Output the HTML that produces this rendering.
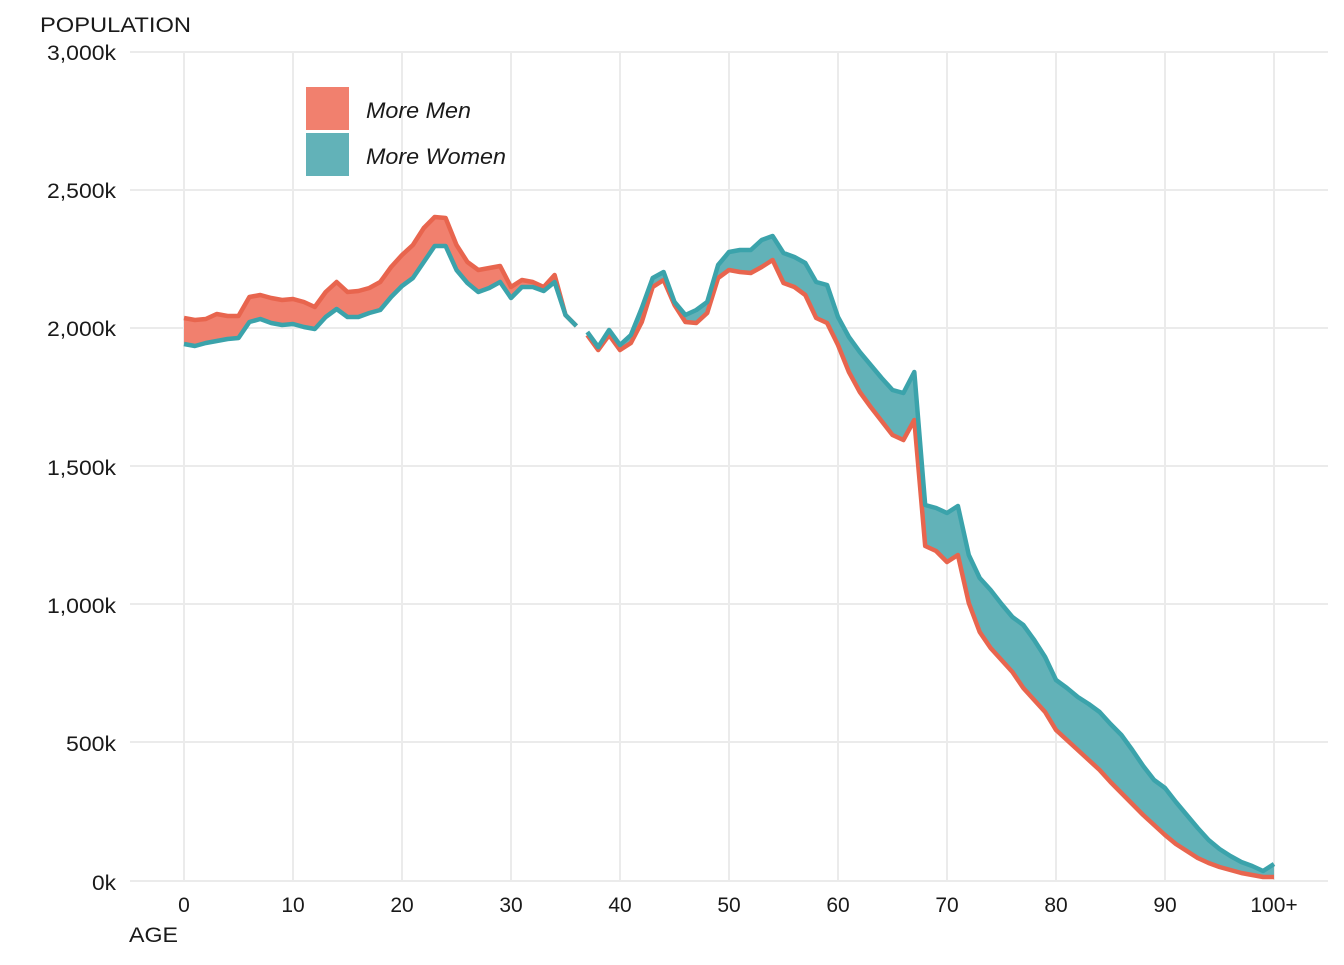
<!DOCTYPE html>
<html><head><meta charset="utf-8"><style>
body{margin:0;background:#fff;}
svg text{font-family:"Liberation Sans",Arial,sans-serif;}
</style></head><body>
<svg id="s" width="1344" height="960" xmlns="http://www.w3.org/2000/svg">
<rect width="1344" height="960" fill="#fff"/>
<g id="grid" stroke="#ebebeb" stroke-width="2"></g>
<g id="fills"></g>
<g id="lines" fill="none" stroke-width="4.5" stroke-linejoin="round"></g>
<g font-size="21" fill="#1a1a1a">
<text x="40" y="32" textLength="151" lengthAdjust="spacingAndGlyphs">POPULATION</text>
<text x="129" y="942" textLength="49" lengthAdjust="spacingAndGlyphs">AGE</text>
<g text-anchor="end">
<text x="116" y="60" textLength="69" lengthAdjust="spacingAndGlyphs">3,000k</text>
<text x="116" y="198" textLength="69" lengthAdjust="spacingAndGlyphs">2,500k</text>
<text x="116" y="336" textLength="69" lengthAdjust="spacingAndGlyphs">2,000k</text>
<text x="116" y="475" textLength="69" lengthAdjust="spacingAndGlyphs">1,500k</text>
<text x="116" y="613" textLength="69" lengthAdjust="spacingAndGlyphs">1,000k</text>
<text x="116" y="751" textLength="50" lengthAdjust="spacingAndGlyphs">500k</text>
<text x="116" y="890" textLength="24" lengthAdjust="spacingAndGlyphs">0k</text>
</g>
<g text-anchor="middle" id="xt"></g>
</g>
<rect x="306" y="87" width="43" height="43" fill="#F1806E"/>
<rect x="306" y="133" width="43" height="43" fill="#62B2B8"/>
<text x="366" y="118" font-size="22" font-style="italic" fill="#1a1a1a" textLength="105" lengthAdjust="spacingAndGlyphs">More Men</text>
<text x="366" y="164" font-size="22" font-style="italic" fill="#1a1a1a" textLength="140" lengthAdjust="spacingAndGlyphs">More Women</text>
</svg>
<script>
var M=[318,320,319,314,316,316,297,295,298,300,299,302,307,292,282,292,291,288,282,267,255,245,228,217,218,245,262,270,268,266,287,280,282,287,275,315,326,
335,350,335,350,343,322,287,280,305,322,323,313,278,270,272,273,267,260,283,287,295,318,323,345,372,392,407,421,435,440,420,546,551,562,555,603,632,648,660,672,688,700,712,730,740,750,760,770,782,793,804,815,825,835,844,851,858,863,867,870,873,875,877,877];
var W=[344,346,343,341,339,338,322,319,323,325,324,327,329,317,309,317,317,313,310,297,286,278,262,246,246,270,283,292,288,282,298,287,287,291,282,315,326,
332,347,330,345,335,308,278,272,302,315,310,302,265,252,250,250,240,236,253,257,263,282,285,317,337,352,365,378,390,393,372,505,508,513,506,555,578,590,604,617,625,640,657,680,688,697,704,712,724,735,750,766,780,788,802,815,828,840,849,856,862,866,871,864];
function X(a){return 184+10.9*a;}
var ns="http://www.w3.org/2000/svg";
function el(p,t,at){var e=document.createElementNS(ns,t);for(var k in at)e.setAttribute(k,at[k]);document.getElementById(p).appendChild(e);return e;}
[52,190,328,466,604,742,881].forEach(function(y){el("grid","line",{x1:130,x2:1328,y1:y,y2:y});});
for(var a=0;a<=100;a+=10){el("grid","line",{x1:X(a),x2:X(a),y1:52,y2:881});
var t=el("xt","text",{x:X(a),y:912});t.textContent=a==100?"100+":a;}
function seg(s,e){
 var top=[],bot=[];
 for(var i=s;i<=e;i++){top.push(X(i)+","+M[i]);}
 for(var i=e;i>=s;i--){bot.push(X(i)+","+W[i]);}
 el("fills","polygon",{points:top.concat(bot).join(" "),fill:s<37?"#F1806E":"#62B2B8"});
}
seg(0,36);seg(37,100);
function line(arr,s,e,c){var p=[];for(var i=s;i<=e;i++)p.push(X(i)+","+arr[i]);el("lines","polyline",{points:p.join(" "),stroke:c});}
line(M,0,36,"#E8654E");line(M,37,100,"#E8654E");
line(W,0,36,"#3BA3AB");line(W,37,100,"#3BA3AB");
</script>
</body></html>
